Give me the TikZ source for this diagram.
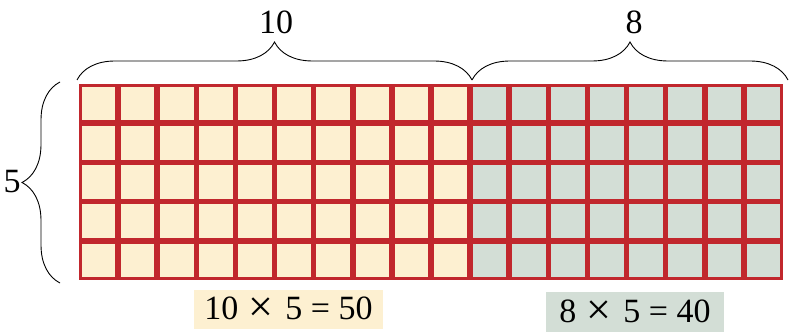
\documentclass[tikz,border=0pt]{standalone}
\usepackage{fontspec}
\setmainfont{Liberation Serif}
\usepackage{xcolor}
\usepackage{graphicx}
\usetikzlibrary{decorations.pathreplacing, positioning}
\definecolor{cellred}{HTML}{C1272D}
\definecolor{tenfill}{HTML}{FDF0D1}
\definecolor{eightfill}{HTML}{D3DED6}
\newcommand{\bigtimes}{\raisebox{-0.06em}{\scalebox{1.3}{×}}}
\tikzset{
	cell/.style={draw=cellred, line width=2.8pt},
	bracket/.style={decorate, decoration={brace, amplitude=38pt}, line width=0.9pt},
	numlabel/.style={font=\fontsize{34}{34}\selectfont, inner sep=0pt},
	sumbox/.style={font=\fontsize{34}{34}\selectfont, inner sep=0pt}
}

\begin{document}
\begin{tikzpicture}[x=1pt, y=-1pt]
				\useasboundingbox (0,0) rectangle (791,336);
				% Cells of the array:
				\fill[cellred] (79, 84) rectangle (783, 280);
				\foreach \col in {0,...,17}{
					\foreach \row in {0,...,4}{
						\ifnum\col<10 \def\cellfill{tenfill}\else \def\cellfill{eightfill}\fi
						\draw[cell, fill=\cellfill] (79+\col*39.11+1.4, 84+\row*39.2+1.4) rectangle (79+\col*39.11+39.11-1.4, 84+\row*39.2+39.2-1.4);
					}
				}
				% Braces and labels:
				\coordinate (topA) at (77, 80);
				\coordinate (topB) at (472, 80);
				\coordinate (topC) at (788, 80);
				\coordinate (sideA) at (60, 283);
				\coordinate (sideB) at (60, 82);
				\draw[bracket] (topA) -- (topB);
				\draw[bracket] (topB) -- (topC);
				\draw[bracket] (sideA) -- (sideB);
				\node[numlabel] (ten) at (276, 22){10};
				\node[numlabel] (eight) at (634, 22){8};
				\node[numlabel] (five) at (12, 182){5};
				% Products:
				\node[sumbox, fill=tenfill, minimum width=189pt, minimum height=39pt] (tenprod) at (288.5, 309.5){10\hspace{0.3em}\bigtimes\hspace{0.35em}5 = 50};
				\node[sumbox, fill=eightfill, minimum width=178pt, minimum height=40pt] (eightprod) at (635, 312){8\hspace{0.3em}\bigtimes\hspace{0.35em}5 = 40};
			\end{tikzpicture}
\end{document}
